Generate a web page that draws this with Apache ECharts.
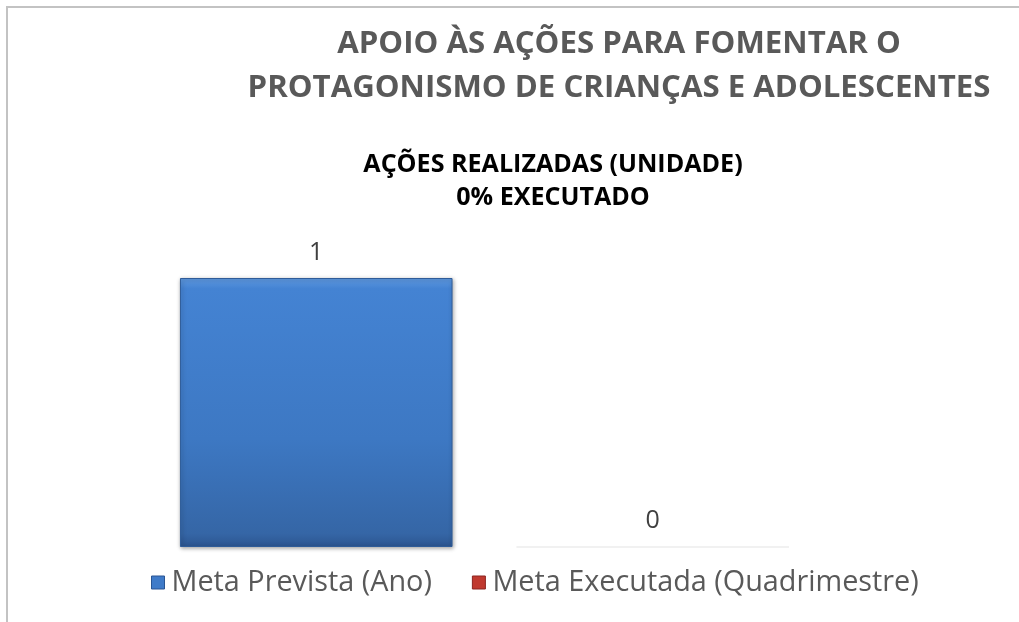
<!DOCTYPE html>
<html>
<head>
<meta charset="utf-8">
<script src="https://cdn.jsdelivr.net/npm/echarts@6/dist/echarts.min.js"></script>
<style>
  html, body { margin: 0; padding: 0; background: #fff; }
  #main { width: 1019px; height: 622px; }
</style>
</head>
<body>
<div id="main"></div>
<script>
var categories = ['Meta Prevista (Ano)', 'Meta Executada (Quadrimestre)'];
var metaPrevista = [1, '-'];
var metaExecutada = ['-', 0];
var titleLines = ['APOIO ÀS AÇÕES PARA FOMENTAR O', 'PROTAGONISMO DE CRIANÇAS E ADOLESCENTES'];
var subtitleLines = ['AÇÕES REALIZADAS (UNIDADE)', '0% EXECUTADO'];

var font = '"Open Sans", "Noto Sans", sans-serif';

var chart = echarts.init(document.getElementById('main'));

chart.setOption({
    backgroundColor: '#fff',
    textStyle: { fontFamily: font },
    graphic: [{
        type: 'rect',
        shape: { x: 7, y: 7, width: 1100, height: 700 },
        style: { fill: 'none', stroke: '#c3c3c3', lineWidth: 2 },
        silent: true
    }],
    title: [{
        text: titleLines.join('\n'),
        left: 614,
        top: 17,
        textAlign: 'center',
        textStyle: {
            fontFamily: font,
            fontSize: 31.2,
            fontWeight: 'bold',
            color: '#595959',
            lineHeight: 44
        }
    }, {
        text: subtitleLines.join('\n'),
        left: 548,
        top: 143,
        textAlign: 'center',
        textStyle: {
            fontFamily: font,
            fontSize: 25.1,
            fontWeight: 'bold',
            color: '#000',
            lineHeight: 33
        }
    }],
    legend: {
        left: 146,
        top: 563,
        icon: 'rect',
        itemWidth: 13,
        itemHeight: 13,
        itemGap: 40,
        textStyle: { fontFamily: font, fontSize: 28.8, color: '#595959', padding: [0, 0, 0, 2] },
        data: [
            { name: categories[0], itemStyle: { color: '#3f7bc9', borderColor: '#2a5593', borderWidth: 1 } },
            { name: categories[1], itemStyle: { color: '#c0392f', borderColor: '#8b2520', borderWidth: 1 } }
        ]
    },
    grid: { left: 148, right: 198, top: 278, bottom: 75 },
    xAxis: {
        type: 'category',
        data: categories,
        axisLine: { show: false },
        axisTick: { show: false },
        axisLabel: { show: false }
    },
    yAxis: {
        type: 'value',
        min: 0,
        max: 1,
        show: false,
        splitLine: { show: false }
    },
    series: [{
        name: categories[0],
        type: 'bar',
        stack: 'meta',
        barWidth: '81%',
        data: metaPrevista,
        itemStyle: {
            color: {
                type: 'linear', x: 0, y: 0, x2: 0, y2: 1,
                colorStops: [
                    { offset: 0, color: '#5f99e0' },
                    { offset: 0.04, color: '#4483d3' },
                    { offset: 0.6, color: '#3d78c3' },
                    { offset: 0.95, color: '#3566a6' },
                    { offset: 1, color: '#2c5590' }
                ]
            },
            borderColor: '#2f5c99',
            borderWidth: 1,
            shadowColor: 'rgba(0,0,0,0.35)',
            shadowBlur: 4,
            shadowOffsetX: 1,
            shadowOffsetY: 1
        },
        label: {
            show: true,
            position: 'top',
            distance: 13,
            fontFamily: font,
            fontSize: 25,
            color: '#404040'
        }
    }, {
        name: categories[1],
        type: 'bar',
        stack: 'meta',
        barWidth: '81%',
        data: metaExecutada,
        itemStyle: {
            color: '#c0392f',
            borderColor: 'rgba(0,0,0,0.06)',
            borderWidth: 1
        },
        label: {
            show: true,
            position: 'top',
            distance: 13,
            fontFamily: font,
            fontSize: 25,
            color: '#404040'
        }
    }]
});
</script>
</body>
</html>
